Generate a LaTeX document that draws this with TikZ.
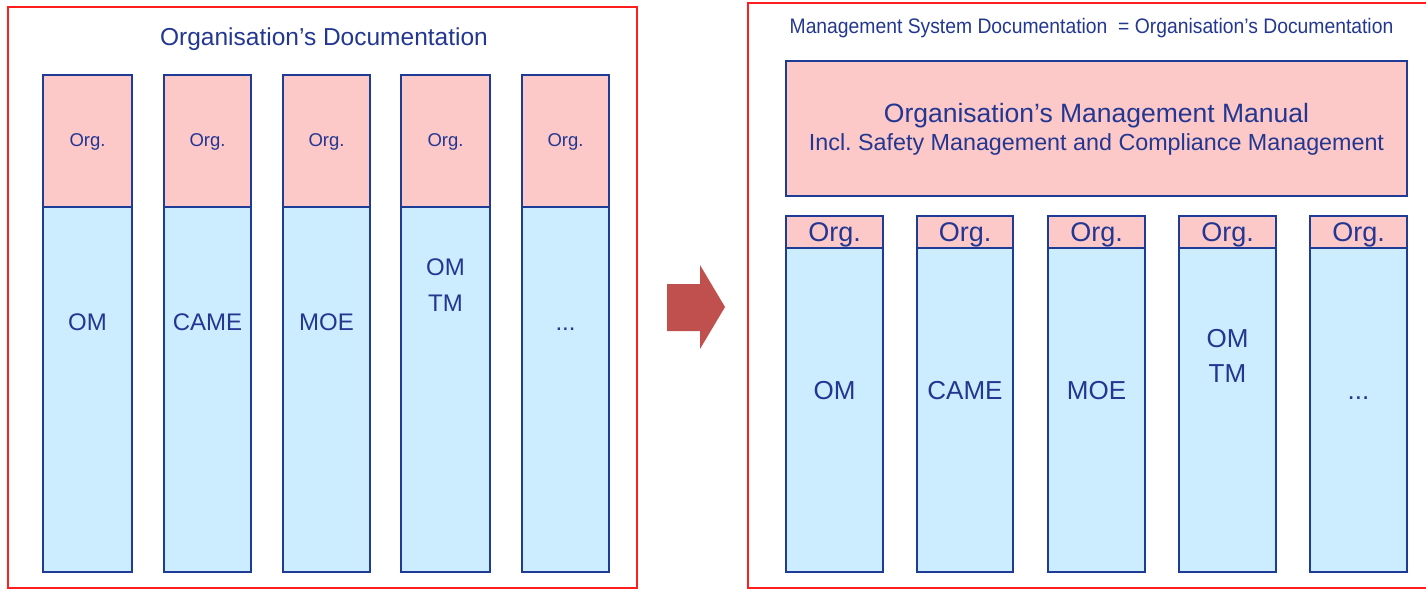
\documentclass[tikz,border=0pt]{standalone}
\usepackage{fontspec}
\setmainfont{Liberation Sans}
\usetikzlibrary{fit}
\frenchspacing
\definecolor{pinkf}{RGB}{252,200,200}
\definecolor{bluef}{RGB}{204,236,255}
\definecolor{edgec}{RGB}{30,60,150}
\definecolor{txtc}{RGB}{35,55,145}
\definecolor{framec}{RGB}{255,30,30}
\definecolor{arrowc}{RGB}{192,80,77}
\tikzset{
  pinkbox/.style={draw=edgec, fill=pinkf, line width=1.4pt, inner sep=0pt},
  bluebox/.style={draw=edgec, fill=bluef, line width=1.4pt, inner sep=0pt},
  framel/.style={draw=framec, line width=1.5pt},
  lbl/.style={text=txtc, inner sep=0pt, anchor=base, align=center},
}
\begin{document}
\begin{tikzpicture}[x=1pt,y=-1pt]
\useasboundingbox (0,0) rectangle (1426,590);
\clip (0,0) rectangle (1426,590);
% frames
\draw[framel] (8,7) rectangle (637,588);
\draw[framel] (1440,3) -- (748,3) -- (748,588) -- (1440,588);
% left title
\node[lbl, font=\fontsize{24.5}{28}\selectfont] (ltitle) at (324,45) {Organisation’s Documentation};
% left columns
\foreach \i/\xl/\xr in {1/43/132, 2/164/251, 3/283/370, 4/401/490, 5/522/609}{
  \node[bluebox, fit={(\xl,207) (\xr,572)}] (lb\i) {};
  \node[pinkbox, fit={(\xl,75) (\xr,207)}] (lo\i) {};
  \node[lbl, font=\fontsize{18.5}{20}\selectfont] (lot\i) at (lo\i.center |- 0,146.5) {Org.};
}
\node[lbl, font=\fontsize{24}{36}\selectfont] (lbt1) at (lb1.center |- 0,330.6) {OM};
\node[lbl, font=\fontsize{24}{36}\selectfont] (lbt2) at (lb2.center |- 0,330.6) {CAME};
\node[lbl, font=\fontsize{24}{36}\selectfont] (lbt3) at (lb3.center |- 0,330.6) {MOE};
\node[lbl, font=\fontsize{24}{36}\selectfont] (lbt4) at (lb4.center |- 0,311.6) {OM\\TM};
\node[lbl, font=\fontsize{24}{36}\selectfont] (lbt5) at (lb5.center |- 0,330.6) {...};
% arrow
\fill[arrowc] (667,284) -- (700,284) -- (700,265) -- (725,307) -- (700,349) -- (700,331) -- (667,331) -- cycle;
% right title
\node[lbl, font=\fontsize{21}{24}\selectfont] (rtitle) at (1091.5,33) {\scalebox{0.92}[1]{Management System Documentation\ \ = Organisation’s Documentation}};
% management manual
\node[pinkbox, fit={(786,61) (1407,196)}] (mm) {};
\node[lbl, font=\fontsize{26.5}{28}\selectfont] (mm1) at (mm.center |- 0,122) {Organisation’s Management Manual};
\node[lbl, font=\fontsize{23.3}{26}\selectfont] (mm2) at (mm.center |- 0,150) {Incl. Safety Management and Compliance Management};
% right columns
\foreach \i/\xl/\xr in {1/786/883, 2/917/1013, 3/1048/1145, 4/1179/1276, 5/1310/1407}{
  \node[bluebox, fit={(\xl,248) (\xr,572)}] (rb\i) {};
  \node[pinkbox, fit={(\xl,216) (\xr,248)}] (ro\i) {};
  \node[lbl, font=\fontsize{27}{30}\selectfont] (rot\i) at (ro\i.center |- 0,241.5) {Org.};
}
\node[lbl, font=\fontsize{26}{35}\selectfont] (rbt1) at (rb1.center |- 0,399.3) {OM};
\node[lbl, font=\fontsize{26}{35}\selectfont] (rbt2) at (rb2.center |- 0,399.3) {CAME};
\node[lbl, font=\fontsize{26}{35}\selectfont] (rbt3) at (rb3.center |- 0,399.3) {MOE};
\node[lbl, font=\fontsize{26}{35}\selectfont] (rbt4) at (rb4.center |- 0,382) {OM\\TM};
\node[lbl, font=\fontsize{26}{35}\selectfont] (rbt5) at (rb5.center |- 0,399.3) {...};
\end{tikzpicture}
\end{document}
